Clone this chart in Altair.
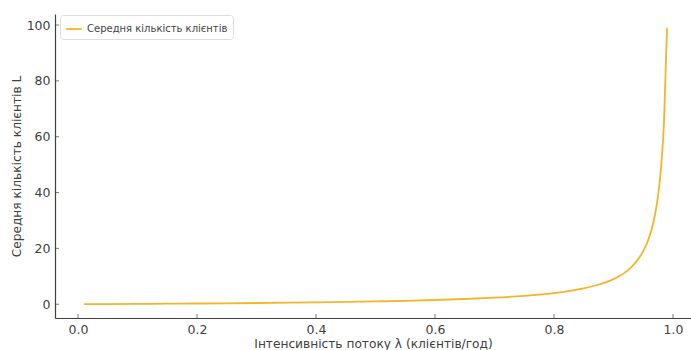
import altair as alt
import pandas as pd

# Arrival rate λ (clients/hour) and mean number of clients L in the system
lam = [0.01, 0.05, 0.10, 0.15, 0.20, 0.25, 0.30, 0.35, 0.40, 0.45, 0.50,
       0.55, 0.60, 0.65, 0.70, 0.75, 0.80, 0.83, 0.85, 0.87, 0.89, 0.90,
       0.91, 0.92, 0.93, 0.94, 0.95, 0.96, 0.965, 0.97, 0.975, 0.98,
       0.985, 0.99]
clients = [0.01, 0.05, 0.11, 0.18, 0.25, 0.33, 0.43, 0.54, 0.67, 0.82, 1.0,
           1.22, 1.5, 1.86, 2.33, 3.0, 4.0, 4.9, 5.7, 6.7, 8.1, 9.0,
           10.1, 11.5, 13.3, 15.7, 19.0, 24.0, 27.6, 32.3, 39.0, 49.0,
           65.7, 99.0]
series_name = "Середня кількість клієнтів"

x_ticks = [0.0, 0.2, 0.4, 0.6, 0.8, 1.0]
y_ticks = [0, 20, 40, 60, 80, 100]

df = pd.DataFrame({"lam": lam, "L": clients, "series": series_name})
xt = pd.DataFrame({"t": x_ticks})
yt = pd.DataFrame({"t": y_ticks})

FONT = "DejaVu Sans"
AXIS_COLOR = "#404040"
W, H = 636, 304

x_scale = alt.Scale(domain=[-0.0387, 1.0303], nice=False, zero=False)
y_scale = alt.Scale(domain=[-4.94, 103.95], nice=False, zero=False)

line = alt.Chart(df).mark_line(strokeWidth=1.8, interpolate="monotone").encode(
    x=alt.X(
        "lam:Q",
        scale=x_scale,
        axis=alt.Axis(
            title="Інтенсивність потоку λ (клієнтів/год)",
            values=x_ticks,
            format=".1f",
            grid=False,
            ticks=False,
            labelPadding=5,
            titlePadding=2,
        ),
    ),
    y=alt.Y(
        "L:Q",
        scale=y_scale,
        axis=alt.Axis(
            title="Середня кількість клієнтів L",
            values=y_ticks,
            format="d",
            grid=False,
            ticks=False,
            labelPadding=5,
            titlePadding=3,
        ),
    ),
    color=alt.Color(
        "series:N",
        scale=alt.Scale(range=["#f5b52a"]),
        legend=alt.Legend(
            title=None,
            orient="none",
            legendX=5,
            legendY=1,
            symbolType="stroke",
            symbolStrokeWidth=1.8,
            symbolSize=250,
            labelFont=FONT,
            labelFontSize=10,
            labelColor="#444444",
            strokeColor="#dddddd",
            cornerRadius=3,
            padding=5,
            fillColor="white",
        ),
    ),
)

# Inward-pointing tick marks along both axes
x_tick_marks = alt.Chart(xt).mark_tick(
    orient="vertical", size=4, thickness=1, color=AXIS_COLOR
).encode(x=alt.X("t:Q", scale=x_scale), y=alt.value(H - 2))

y_tick_marks = alt.Chart(yt).mark_tick(
    orient="horizontal", size=4, thickness=1, color=AXIS_COLOR
).encode(y=alt.Y("t:Q", scale=y_scale), x=alt.value(2))

chart = alt.layer(line, x_tick_marks, y_tick_marks).properties(
    width=W,
    height=H,
    autosize=alt.AutoSizeParams(type="none"),
    padding={"left": 55, "top": 14, "right": 0, "bottom": 32},
).configure_view(
    stroke=None,
).configure_axis(
    labelFont=FONT,
    titleFont=FONT,
    labelFontSize=12.5,
    titleFontSize=12.2,
    titleFontWeight="normal",
    labelColor=AXIS_COLOR,
    titleColor=AXIS_COLOR,
    domainColor=AXIS_COLOR,
    domainWidth=1.2,
)

chart.save("out.html", embed_options={"renderer": "svg", "actions": False})
